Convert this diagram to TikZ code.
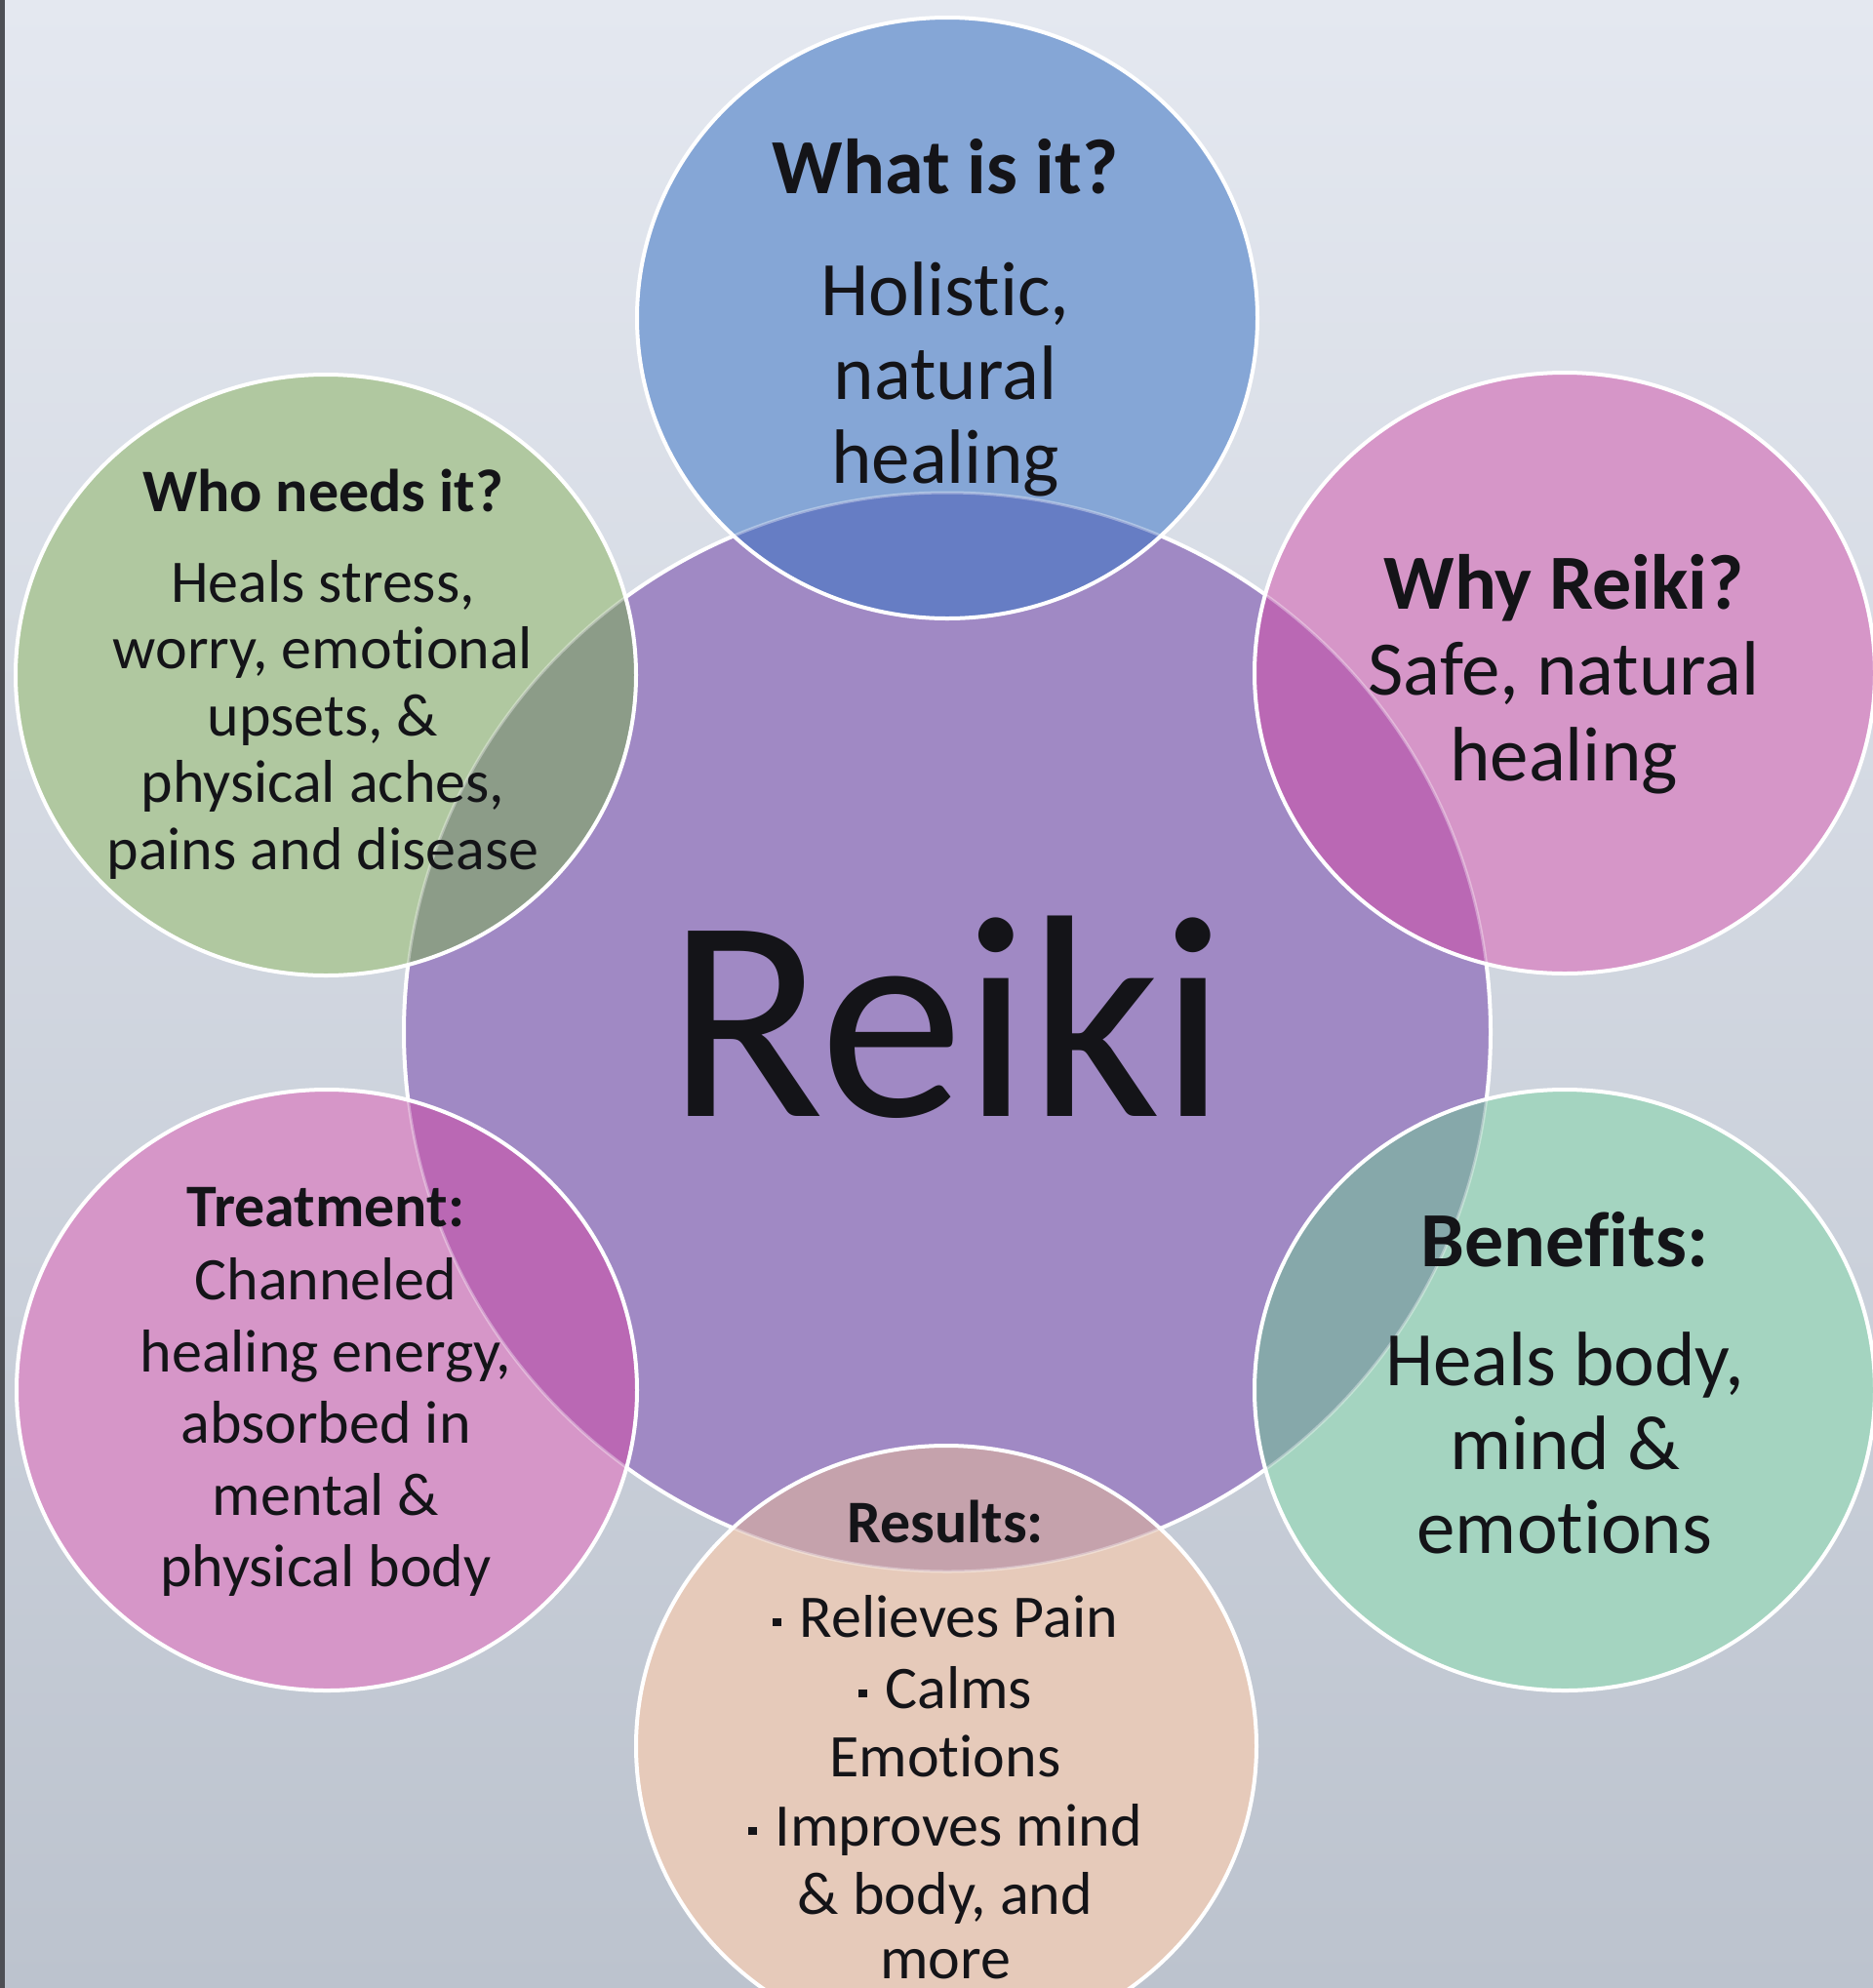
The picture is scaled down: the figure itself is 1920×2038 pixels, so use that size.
\documentclass[tikz,border=0pt]{standalone}
\usepackage{fontspec}
\setmainfont[Ligatures={NoCommon}]{Carlito}
\definecolor{bgtop}{HTML}{E4E8F0}
\definecolor{bgmid}{HTML}{D9DEE7}
\definecolor{bgbot}{HTML}{BCC3CE}
\definecolor{edgestrip}{HTML}{4D4F55}
\definecolor{ink}{HTML}{141418}
\definecolor{purplec}{HTML}{A089C4}
\definecolor{bluec}{HTML}{85A6D6}
\definecolor{blueov}{HTML}{667DC4}
\definecolor{greenc}{HTML}{B0C8A0}
\definecolor{greenov}{HTML}{8C9C88}
\definecolor{pinkc}{HTML}{D696C8}
\definecolor{pinkov}{HTML}{BA68B4}
\definecolor{tealc}{HTML}{A4D4C0}
\definecolor{tealov}{HTML}{86A8AA}
\definecolor{peachc}{HTML}{E6CABA}
\definecolor{peachov}{HTML}{C5A2AC}
\tikzset{
  orad/.style={x radius=318pt, y radius=308pt},
  crad/.style={x radius=557pt, y radius=553pt},
  rim/.style={draw=white, line width=4pt},
  bigh/.style={anchor=base, inner sep=0pt, text=ink, font=\bfseries\fontsize{80}{90}\selectfont},
  bigt/.style={anchor=base, inner sep=0pt, text=ink, font=\fontsize{79}{90}\selectfont},
  smh/.style={anchor=base, inner sep=0pt, text=ink, font=\bfseries\fontsize{62}{72}\selectfont},
  smt/.style={anchor=base, inner sep=0pt, text=ink, font=\fontsize{62}{72}\selectfont},
  huge/.style={anchor=base, inner sep=0pt, text=ink, font=\fontsize{296}{300}\selectfont}
}
\newcommand\outercirc[3]{%
  \fill[#2] (#1) ellipse [orad];
  \begin{scope}
    \clip (#1) ellipse [orad];
    \fill[#3] (ctr) ellipse [crad];
    \draw[white, opacity=.35, line width=3pt] (ctr) ellipse [crad];
  \end{scope}
  \draw[rim] (#1) ellipse [orad];
}
\newcommand\sqbul{\raisebox{0.17em}{\rule{0.14em}{0.14em}}\hspace{0.3em}}
\begin{document}
\begin{tikzpicture}[x=1pt,y=-1pt]
\useasboundingbox (0,0) rectangle (1920,2038);
\clip (0,0) rectangle (1920,2038);
% background
\shade[top color=bgtop, middle color=bgmid, bottom color=bgbot] (0,0) rectangle (1920,2038);
\fill[edgestrip] (0,0) rectangle (5,2038);
% centres
\coordinate (ctr) at (971,1058);
\coordinate (cTop) at (971,326);
\coordinate (cUL) at (334,692);
\coordinate (cUR) at (1604,690);
\coordinate (cLL) at (335,1425);
\coordinate (cLR) at (1604,1425);
\coordinate (cBot) at (970,1790);
% central circle
\fill[purplec] (ctr) ellipse [crad];
\draw[rim] (ctr) ellipse [crad];
% outer circles
\outercirc{cTop}{bluec}{blueov}
\outercirc{cUL}{greenc}{greenov}
\outercirc{cUR}{pinkc}{pinkov}
\outercirc{cLL}{pinkc}{pinkov}
\outercirc{cLR}{tealc}{tealov}
\outercirc{cBot}{peachc}{peachov}
% centre label
\node[huge] (reiki) at (971,1144) {Reiki};
% What is it?
\node[bigh] (w0) at (969,198) {What is it?};
\node[bigt] (w1) at (969,323) {Holistic,};
\node[bigt] (w2) at (969,409) {natural};
\node[bigt] (w3) at (969,495) {healing};
% Who needs it?
\node[smh] (n0) at (331,524) {Who needs it?};
\node[smt] (n1) at (331,617) {Heals stress,};
\node[smt] (n2) at (331,685) {worry, emotional};
\node[smt] (n3) at (331,754) {upsets, \&};
\node[smt] (n4) at (331,822) {physical aches,};
\node[smt] (n5) at (331,891) {pains and disease};
% Why Reiki?
\node[bigh] (y0) at (1603,624) {Why Reiki?};
\node[bigt] (y1) at (1603,712) {Safe, natural};
\node[bigt] (y2) at (1603,800) {healing};
% Treatment
\node[smh] (t0) at (334,1257) {Treatment:};
\node[smt] (t1) at (334,1332) {Channeled};
\node[smt] (t2) at (334,1406) {healing energy,};
\node[smt] (t3) at (334,1479) {absorbed in};
\node[smt] (t4) at (334,1553) {mental \&};
\node[smt] (t5) at (334,1626) {physical body};
% Benefits
\node[bigh] (b0) at (1604,1298) {Benefits:};
\node[bigt] (b1) at (1604,1420) {Heals body,};
\node[bigt] (b2) at (1604,1506) {mind \&};
\node[bigt] (b3) at (1604,1592) {emotions};
% Results
\node[smh] (r0) at (969,1581) {Results:};
\node[smt] (r1) at (969,1678) {\sqbul Relieves Pain};
\node[smt] (r2) at (969,1751) {\sqbul Calms};
\node[smt] (r3) at (969,1821) {Emotions};
\node[smt] (r4) at (969,1892) {\sqbul Improves mind};
\node[smt] (r5) at (969,1962) {\& body, and};
\node[smt] (r6) at (969,2028) {more};
\end{tikzpicture}
\end{document}
